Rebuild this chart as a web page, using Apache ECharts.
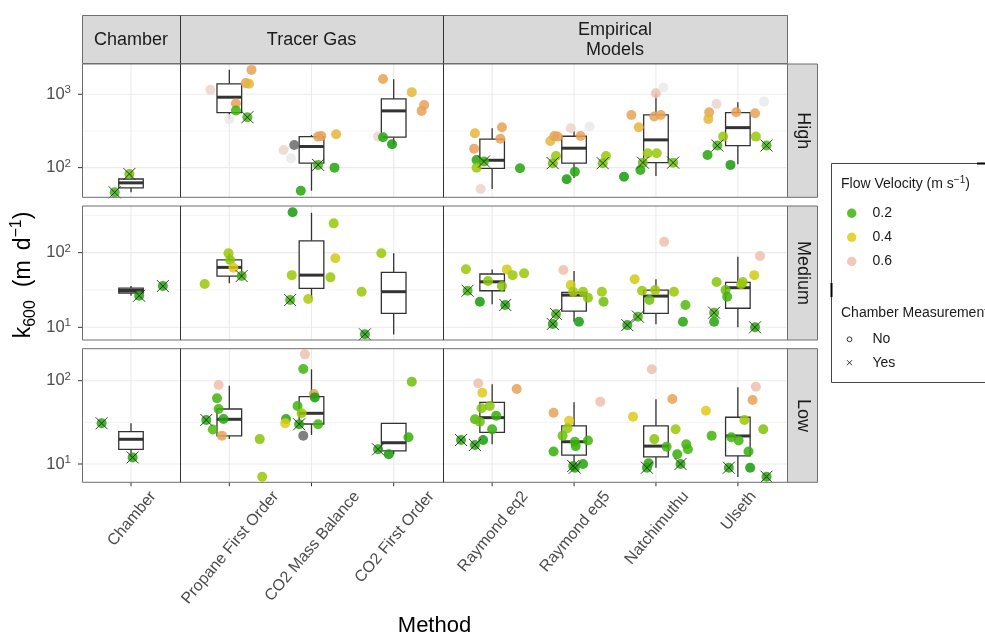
<!DOCTYPE html>
<html>
<head>
<meta charset="utf-8">
<script src="https://cdn.jsdelivr.net/npm/echarts@6/dist/echarts.min.js"></script>
<style>html,body{margin:0;padding:0;background:#fff}#c{width:985px;height:636px}</style>
</head>
<body>
<div id="c"></div>
<script>
// ---------------- data ----------------
const methods = ['Chamber', 'Propane First Order', 'CO2 Mass Balance', 'CO2 First Order',
  'Raymond eq2', 'Raymond eq5', 'Natchimuthu', 'Ulseth'];
const methodGroups = ['Chamber', 'Tracer Gas', 'Empirical\nModels'];
const groupFirstMethod = [0, 1, 4];
const groupMethodCount = [1, 3, 4];
const flowLevels = ['High', 'Medium', 'Low'];
const yAxisMin = [39.4, 6.76, 6.03];
const yAxisMax = [2588, 421.7, 242];
const yMajorBreaks = [10, 100, 1000];
const yMinorBreaks = [3.162, 31.62, 316.2, 3162];
const velocityBreaks = [0.2, 0.4, 0.6];
const chamberLevels = ['No', 'Yes'];

// [method index, jitter (category units), k600, flow velocity (null = NA), chamber measurement (1 = Yes)]
const highPoints = [
  [0,-0.20,46,0.2,1],[0,-0.02,82,0.25,1],
  [1,-0.23,1150,0.65,0],[1,0.27,2150,0.5,0],[1,0.20,1420,0.5,0],[1,0.24,1390,0.45,0],[1,0.08,750,0.5,0],[1,0.08,600,0.2,0],[1,0.0,457,0.7,0],[1,0.22,487,0.2,1],
  [2,-0.34,174,0.65,0],[2,-0.21,204,null,0],[2,-0.25,134,0.7,0],[2,0.08,265,0.5,0],[2,0.12,270,0.5,0],[2,0.30,285,0.45,0],[2,0.08,109,0.2,1],[2,0.28,100,0.15,0],[2,-0.13,48.5,0.15,0],
  [3,-0.13,1620,0.5,0],[3,0.22,1070,0.45,0],[3,0.37,716,0.5,0],[3,0.34,594,0.5,0],[3,-0.19,265,0.65,0],[3,-0.13,260,0.15,0],[3,-0.02,208,0.12,0],
  [4,-0.21,294,0.45,0],[4,0.12,356,0.5,0],[4,0.10,247,0.5,0],[4,-0.22,181,0.5,0],[4,-0.19,127,0.15,0],[4,-0.10,121,0.2,1],[4,-0.19,100,0.3,0],[4,-0.14,51,0.65,0],[4,0.34,98,0.15,0],
  [5,-0.29,231,0.45,0],[5,-0.24,270,0.5,0],[5,-0.20,265,0.5,0],[5,-0.04,345,0.65,0],[5,0.19,363,0.7,0],[5,0.08,270,0.5,0],[5,-0.22,144,0.3,0],[5,-0.26,115,0.25,1],[5,0.01,88,0.15,0],[5,-0.09,69.5,0.12,0],[5,0.39,144,0.3,0],[5,0.35,115,0.25,1],
  [6,-0.30,523,0.5,0],[6,-0.21,356,0.45,0],[6,0.0,1035,0.6,0],[6,0.09,1233,0.7,0],[6,-0.02,497,0.5,0],[6,0.06,523,0.5,0],[6,-0.10,157,0.3,0],[6,0.01,157,0.3,0],[6,-0.16,117,0.25,1],[6,0.21,117,0.25,1],[6,-0.19,93,0.15,0],[6,-0.39,75,0.12,0],
  [7,-0.26,740,0.65,0],[7,-0.35,570,0.5,0],[7,-0.36,462,0.45,0],[7,0.32,795,0.7,0],[7,-0.02,570,0.5,0],[7,0.21,552,0.5,0],[7,-0.18,265,0.3,0],[7,-0.25,200,0.2,1],[7,-0.37,149,0.15,0],[7,0.22,265,0.3,0],[7,0.35,200,0.2,1],[7,-0.09,109,0.12,0]
];
const mediumPoints = [
  [0,0.10,26.5,0.15,1],[0,0.39,35.7,0.15,1],
  [1,-0.30,38,0.3,0],[1,-0.01,98,0.3,0],[1,0.01,79.6,0.28,0],[1,0.05,62.8,0.4,0],[1,0.15,48.6,0.2,1],
  [2,-0.23,347,0.12,0],[2,0.27,247,0.3,0],[2,0.29,84,0.38,0],[2,-0.24,50,0.3,0],[2,0.23,46.7,0.3,0],[2,-0.04,23.9,0.33,0],[2,-0.26,23.2,0.2,1],
  [3,-0.15,98,0.3,0],[3,-0.39,30,0.3,0],[3,-0.35,8.06,0.15,1],
  [4,-0.32,60,0.3,0],[4,0.18,59.7,0.38,0],[4,0.25,50,0.3,0],[4,0.39,52.8,0.3,0],[4,-0.05,41.7,0.28,0],[4,0.12,35.7,0.28,0],[4,-0.30,30.9,0.2,1],[4,-0.15,22,0.12,0],[4,0.16,19.9,0.15,1],
  [5,-0.13,58.5,0.6,0],[5,-0.04,36.8,0.38,0],[5,-0.01,30,0.32,0],[5,0.11,30,0.3,0],[5,0.17,24.9,0.28,0],[5,0.34,30,0.3,0],[5,0.36,22,0.25,0],[5,-0.22,15.1,0.2,1],[5,-0.26,11.1,0.15,1],[5,0.06,11.9,0.12,0],
  [6,0.10,140,0.6,0],[6,-0.26,44,0.38,0],[6,-0.17,30.9,0.3,0],[6,-0.01,31.5,0.3,0],[6,0.22,30,0.3,0],[6,-0.08,23.2,0.25,0],[6,0.36,19.9,0.22,0],[6,-0.22,13.9,0.2,1],[6,-0.35,10.7,0.15,1],[6,0.33,11.9,0.15,0],
  [7,0.27,90,0.6,0],[7,0.20,50,0.38,0],[7,-0.26,40.4,0.28,0],[7,0.06,40.4,0.3,0],[7,0.04,37.7,0.3,0],[7,-0.15,31.5,0.25,0],[7,-0.13,25.7,0.2,0],[7,-0.29,15.7,0.2,1],[7,-0.29,11.9,0.15,0],[7,0.21,10,0.15,1]
];
const lowPoints = [
  [0,-0.36,30.8,0.15,1],[0,0.02,12.0,0.15,1],
  [1,-0.13,88.7,0.6,0],[1,-0.15,61.5,0.2,0],[1,-0.13,45.7,0.2,0],[1,-0.07,34.7,0.15,0],[1,-0.28,33.8,0.15,1],[1,-0.20,26,0.22,0],[1,-0.09,21.9,0.5,0],[1,0.37,19.9,0.28,0],[1,0.40,7.04,0.3,0],
  [2,-0.08,207,0.6,0],[2,-0.10,138,0.2,0],[2,0.03,69.2,0.5,0],[2,0.04,63,0.12,0],[2,-0.17,49.6,0.2,0],[2,-0.12,40.6,0.3,0],[2,-0.31,34.7,0.15,0],[2,-0.32,30.8,0.4,0],[2,-0.15,30,0.15,1],[2,0.08,30,0.2,0],[2,-0.10,21.9,null,0],
  [3,0.22,97.3,0.25,0],[3,0.18,20.9,0.18,0],[3,-0.19,15,0.15,1],[3,-0.06,13.1,0.12,0],
  [4,-0.17,93,0.6,0],[4,-0.12,71.8,0.4,0],[4,0.30,79.4,0.5,0],[4,-0.13,46.7,0.28,0],[4,-0.03,49.7,0.28,0],[4,0.05,38,0.18,0],[4,-0.21,34.4,0.22,0],[4,-0.15,32.2,0.25,0],[4,0.0,26.1,0.18,0],[4,-0.11,19.4,0.12,0],[4,-0.38,19.4,0.15,1],[4,-0.21,16.9,0.15,1],
  [5,0.32,56,0.6,0],[5,-0.25,41.3,0.5,0],[5,-0.06,33.1,0.4,0],[5,-0.08,26.8,0.3,0],[5,-0.14,21.9,0.25,0],[5,0.17,19.1,0.2,0],[5,0.01,18.5,0.2,0],[5,0.02,16.4,0.18,0],[5,-0.25,14.1,0.18,0],[5,0.11,10,0.15,0],[5,-0.01,9.46,0.15,1],[5,0.01,9.03,0.15,1],
  [6,-0.05,137,0.6,0],[6,0.20,60.3,0.5,0],[6,-0.28,37,0.4,0],[6,0.24,26.1,0.3,0],[6,-0.02,19.9,0.28,0],[6,0.13,16.1,0.2,0],[6,0.37,17.2,0.2,0],[6,0.39,15,0.2,0],[6,0.26,13.1,0.18,0],[6,-0.09,10.2,0.15,0],[6,-0.11,9.03,0.15,1],[6,0.30,10,0.15,1],
  [7,0.22,84.7,0.6,0],[7,0.18,58.6,0.5,0],[7,-0.39,43.6,0.4,0],[7,0.08,33.7,0.3,0],[7,0.31,26.1,0.27,0],[7,-0.32,21.9,0.2,0],[7,-0.08,20.9,0.2,0],[7,0.01,19.1,0.2,0],[7,0.13,14.1,0.18,0],[7,0.15,9.03,0.12,0],[7,-0.11,9.03,0.15,1],[7,0.35,7.04,0.15,1]
];

// box statistics per method: [lower whisker, lower hinge, median, upper hinge, upper whisker]
const highBoxes = [[46,53,62,70,82],[457,562,912,1387,2153],[48.5,115,194,265,279],[208,260,594,865,1607],
  [51,98,126,244,345],[72,115,184,268,316],[77,117,239,523,1035],[111,200,351,562,780]];
const mediumBoxes = [[26.5,28.8,31.1,33.4,35.7],[38.8,48.6,63.5,80,98],[24.4,33.3,50,144,342],[8,15.4,30,54.5,98],
  [20.3,30.9,40.7,51.8,59.7],[11.9,16.5,27,29.4,56.8],[11,15.4,26.2,31.5,44],[10,18,33.9,40,88]];
const lowBoxes = [[12,15,19.8,24.4,30.8],[19.9,21.7,34.4,45.7,87],[22.3,30.2,40.6,64.3,137],[13.1,14.4,18,30.8,30.8],
  [17.2,24,36,55,90.6],[9,12.8,18.5,28.6,55],[9,12.2,16.4,28.6,59.8],[7,12.5,21.7,36.4,83.4]];

const rowPoints = [highPoints, mediumPoints, lowPoints];
const rowBoxes = [highBoxes, mediumBoxes, lowBoxes];

// ---------------- styling / layout ----------------
const FONT = 'Liberation Sans, Arial, Helvetica, sans-serif';
const colEdges = [82, 180, 443, 787];
const rowEdges = [[64, 197.3], [206, 340], [348.7, 482.3]];
const velStops = [0.1, 0.2, 0.3, 0.4, 0.5, 0.6, 0.7];
const velColors = ['#0B950B', '#3FB40C', '#99C807', '#DFCA1A', '#E8A257', '#EDC0AF', '#EAEAEA'];
const naColor = '#6A6A6A';
const POINT_OPACITY = 0.85;
const X_LABEL_SIZE = 16;
const X_LABEL_ANGLE = 50 * Math.PI / 180;

const measureCtx = document.createElement('canvas').getContext('2d');
measureCtx.font = X_LABEL_SIZE + 'px "Liberation Sans", Arial, sans-serif';

function hexToRgb(h) { return [parseInt(h.slice(1,3),16), parseInt(h.slice(3,5),16), parseInt(h.slice(5,7),16)]; }
function velColor(v) {
  if (v === null || v === undefined) return naColor;
  if (v <= velStops[0]) return velColors[0];
  if (v >= velStops[velStops.length-1]) return velColors[velColors.length-1];
  for (let i = 0; i < velStops.length - 1; i++) {
    if (v >= velStops[i] && v <= velStops[i+1]) {
      const t = (v - velStops[i]) / (velStops[i+1] - velStops[i]);
      const a = hexToRgb(velColors[i]), b = hexToRgb(velColors[i+1]);
      const c = a.map((x, k) => Math.round(x + (b[k] - x) * t));
      return 'rgb(' + c.join(',') + ')';
    }
  }
  return naColor;
}

const grids = [], xAxes = [], yAxes = [], series = [];

for (let r = 0; r < 3; r++) {
  for (let c = 0; c < 3; c++) {
    const g = r * 3 + c;
    const first = groupFirstMethod[c], n = groupMethodCount[c];
    const catIdx = [];
    for (let i = 0; i < n; i++) catIdx.push(i);
    grids.push({ left: colEdges[c], top: rowEdges[r][0], width: colEdges[c+1] - colEdges[c],
      height: rowEdges[r][1] - rowEdges[r][0], show: false });
    xAxes.push({
      gridIndex: g, type: 'value', min: -0.6, max: n - 0.4,
      axisLine: { show: false }, splitLine: { show: false }, axisTick: { show: false },
      axisLabel: { show: false }
    });
    yAxes.push({
      gridIndex: g, type: 'log', logBase: 10, min: yAxisMin[r], max: yAxisMax[r],
      axisLine: { show: false }, splitLine: { show: false }, axisTick: { show: false },
      minorTick: { show: false }, minorSplitLine: { show: false },
      axisLabel: c === 0 ? {
        show: true, showMinLabel: false, showMaxLabel: false, margin: 11,
        fontFamily: FONT, color: '#4D4D4D',
        formatter: v => '{b|10}{s|' + Math.round(Math.log10(v)) + '}',
        rich: {
          b: { fontSize: 16.5, lineHeight: 20, color: '#4D4D4D', fontFamily: FONT },
          s: { fontSize: 11.5, lineHeight: 8, verticalAlign: 'top', color: '#4D4D4D', fontFamily: FONT }
        }
      } : { show: false }
    });

    // grid lines, tick marks and category labels (positions through the axes)
    series.push({
      type: 'custom', xAxisIndex: g, yAxisIndex: g, silent: true, clip: false, z: 1,
      data: [[0, yAxisMin[r]]],
      renderItem: (params, api) => {
        const cs = params.coordSys;
        const top = cs.y, bottom = cs.y + cs.height, left = cs.x, right = cs.x + cs.width;
        const kids = [];
        yMinorBreaks.forEach(v => {
          const y = api.coord([0, v])[1];
          if (y > top + 0.5 && y < bottom - 0.5)
            kids.push({ type: 'line', shape: { x1: left, y1: y, x2: right, y2: y }, style: { stroke: '#EFEFEF', lineWidth: 0.7 } });
        });
        yMajorBreaks.forEach(v => {
          const y = api.coord([0, v])[1];
          if (y > top && y < bottom) {
            kids.push({ type: 'line', shape: { x1: left, y1: y, x2: right, y2: y }, style: { stroke: '#EBEBEB', lineWidth: 1.1 } });
            if (c === 0) kids.push({ type: 'line', shape: { x1: left - 4, y1: y, x2: left, y2: y }, style: { stroke: '#333333', lineWidth: 1 } });
          }
        });
        catIdx.forEach(i => {
          const x = api.coord([i, 100])[0];
          kids.push({ type: 'line', shape: { x1: x, y1: top, x2: x, y2: bottom }, style: { stroke: '#EBEBEB', lineWidth: 1.1 } });
          if (r === 2) {
            kids.push({ type: 'line', shape: { x1: x, y1: bottom, x2: x, y2: bottom + 4 }, style: { stroke: '#333333', lineWidth: 1 } });
            const name = methods[first + i];
            const L = measureCtx.measureText(name).width;
            const hBox = X_LABEL_SIZE * 0.82;
            const H = L * Math.sin(X_LABEL_ANGLE) + hBox * Math.cos(X_LABEL_ANGLE);
            kids.push({ type: 'text', x: x + 1, y: bottom + 7 + H / 2, rotation: X_LABEL_ANGLE,
              style: { text: name, fontSize: X_LABEL_SIZE, fontFamily: FONT, fill: '#4D4D4D',
                align: 'center', verticalAlign: 'middle', textAlign: 'center', textVerticalAlign: 'middle' } });
          }
        });
        return { type: 'group', children: kids };
      }
    });

    // boxplots
    const boxData = [];
    for (let i = 0; i < n; i++) boxData.push([i].concat(rowBoxes[r][first + i]));
    series.push({
      type: 'custom', xAxisIndex: g, yAxisIndex: g, silent: true, z: 2,
      encode: { x: 0, y: [1, 2, 3, 4, 5] },
      data: boxData,
      renderItem: (params, api) => {
        const x = api.value(0);
        const vals = [1, 2, 3, 4, 5].map(k => api.value(k));
        const cx = api.coord([x, vals[2]])[0];
        const x0 = api.coord([x - 0.15, vals[2]])[0];
        const x1 = api.coord([x + 0.15, vals[2]])[0];
        const ys = vals.map(v => api.coord([x, v])[1]);
        const stroke = '#333333';
        return { type: 'group', children: [
          { type: 'line', shape: { x1: cx, y1: ys[3], x2: cx, y2: ys[4] }, style: { stroke, lineWidth: 1.3 } },
          { type: 'line', shape: { x1: cx, y1: ys[1], x2: cx, y2: ys[0] }, style: { stroke, lineWidth: 1.3 } },
          { type: 'rect', shape: { x: x0, y: ys[3], width: x1 - x0, height: ys[1] - ys[3] }, style: { fill: '#FFFFFF', stroke, lineWidth: 1.3 } },
          { type: 'line', shape: { x1: x0, y1: ys[2], x2: x1, y2: ys[2] }, style: { stroke, lineWidth: 3 } }
        ] };
      }
    });

    // points
    const pts = rowPoints[r].filter(p => p[0] >= first && p[0] < first + n);
    series.push({
      type: 'scatter', xAxisIndex: g, yAxisIndex: g, silent: true, z: 3,
      symbol: 'circle', symbolSize: 10,
      data: pts.map(p => ({ value: [p[0] - first + p[1], p[2]], itemStyle: { color: velColor(p[3]), opacity: POINT_OPACITY } }))
    });
    // chamber measurement crosses
    series.push({
      type: 'custom', xAxisIndex: g, yAxisIndex: g, silent: true, clip: false, z: 4,
      data: pts.filter(p => p[4] === 1).map(p => [p[0] - first + p[1], p[2]]),
      renderItem: (params, api) => {
        const pt = api.coord([api.value(0), api.value(1)]);
        const d = 6;
        const st = { stroke: '#262626', lineWidth: 0.9 };
        return { type: 'group', children: [
          { type: 'line', shape: { x1: pt[0] - d, y1: pt[1] - d, x2: pt[0] + d, y2: pt[1] + d }, style: st },
          { type: 'line', shape: { x1: pt[0] - d, y1: pt[1] + d, x2: pt[0] + d, y2: pt[1] - d }, style: st }
        ] };
      }
    });
  }
}

// ---------------- strips, borders, titles, legend ----------------
const graphics = [];
const BORDER = '#6E6E6E';
const STRIP_FILL = '#D9D9D9';
for (let c = 0; c < 3; c++) {
  graphics.push({ type: 'rect', z: 10, shape: { x: colEdges[c] + 0.5, y: 15.5, width: colEdges[c+1] - colEdges[c], height: 48 },
    style: { fill: STRIP_FILL, stroke: BORDER, lineWidth: 1 } });
  graphics.push({ type: 'text', z: 11, x: (colEdges[c] + colEdges[c+1]) / 2, y: 40,
    style: { text: methodGroups[c], fontSize: 18, fontFamily: FONT, fill: '#1A1A1A', align: 'center', verticalAlign: 'middle', textAlign: 'center', textVerticalAlign: 'middle', lineHeight: 20 } });
}
for (let r = 0; r < 3; r++) {
  const t = rowEdges[r][0], b = rowEdges[r][1];
  graphics.push({ type: 'rect', z: 10, shape: { x: 787.5, y: t, width: 30, height: b - t },
    style: { fill: STRIP_FILL, stroke: BORDER, lineWidth: 1 } });
  graphics.push({ type: 'text', z: 11, x: 802.5, y: (t + b) / 2, rotation: -Math.PI / 2,
    style: { text: flowLevels[r], fontSize: 18, fontFamily: FONT, fill: '#1A1A1A', align: 'center', verticalAlign: 'middle', textAlign: 'center', textVerticalAlign: 'middle' } });
  for (let c = 0; c < 3; c++) {
    graphics.push({ type: 'rect', z: 20, silent: true, shape: { x: colEdges[c] + 0.5, y: t, width: colEdges[c+1] - colEdges[c], height: b - t },
      style: { fill: 'none', stroke: BORDER, lineWidth: 1 } });
  }
  [1, 2].forEach(c => graphics.push({ type: 'line', z: 21, shape: { x1: colEdges[c] + 0.5, y1: t, x2: colEdges[c] + 0.5, y2: b },
    style: { stroke: '#333333', lineWidth: 1 } }));
}
[1, 2].forEach(c => graphics.push({ type: 'line', z: 21, shape: { x1: colEdges[c] + 0.5, y1: 15.5, x2: colEdges[c] + 0.5, y2: 63.5 },
  style: { stroke: '#333333', lineWidth: 1 } }));

// axis titles
graphics.push({ type: 'text', z: 11, x: 434.5, y: 626,
  style: { text: 'Method', fontSize: 22, fontFamily: FONT, fill: '#000', align: 'center', verticalAlign: 'middle', textAlign: 'center', textVerticalAlign: 'middle' } });
graphics.push({ type: 'text', z: 11, x: 24, y: 275, rotation: Math.PI / 2,
  style: { text: '{b|k}{sub|600}{g1| }{b|(m}{g2| }{b|d}{sup|\u22121}{b|)}', fontFamily: FONT, fill: '#000', align: 'center', verticalAlign: 'middle', textAlign: 'center', textVerticalAlign: 'middle',
    rich: {
      b: { fontSize: 23, lineHeight: 30, fontFamily: FONT, fill: '#000' },
      g1: { fontSize: 23, lineHeight: 30, width: 13 },
      g2: { fontSize: 23, lineHeight: 30, width: 10 },
      sub: { fontSize: 16, lineHeight: 14, verticalAlign: 'bottom', fontFamily: FONT, fill: '#000' },
      sup: { fontSize: 16, lineHeight: 12, verticalAlign: 'top', fontFamily: FONT, fill: '#000' }
    } } });

// legend
graphics.push({ type: 'rect', z: 10, shape: { x: 831.5, y: 163.5, width: 170, height: 219 },
  style: { fill: '#FFFFFF', stroke: '#444444', lineWidth: 1 } });
graphics.push({ type: 'line', z: 12, shape: { x1: 977, y1: 163.5, x2: 985, y2: 163.5 }, style: { stroke: '#000', lineWidth: 2 } });
graphics.push({ type: 'line', z: 12, shape: { x1: 831.5, y1: 283, x2: 831.5, y2: 297 }, style: { stroke: '#000', lineWidth: 2 } });
graphics.push({ type: 'text', z: 11, x: 841, y: 184,
  style: { text: '{b|Flow Velocity (m s}{sup|\u22121}{b|)}', fontFamily: FONT, fill: '#1A1A1A', align: 'left', verticalAlign: 'middle', textAlign: 'left', textVerticalAlign: 'middle',
    rich: {
      b: { fontSize: 14, lineHeight: 18, fontFamily: FONT, fill: '#1A1A1A' },
      sup: { fontSize: 10, lineHeight: 8, verticalAlign: 'top', fontFamily: FONT, fill: '#1A1A1A' }
    } } });
const legendRowsY = [213.3, 237.3, 261.5];
velocityBreaks.forEach((v, i) => {
  graphics.push({ type: 'circle', z: 11, shape: { cx: 851.7, cy: legendRowsY[i], r: 4.7 }, style: { fill: velColor(v), opacity: POINT_OPACITY } });
  graphics.push({ type: 'text', z: 11, x: 872.5, y: legendRowsY[i],
    style: { text: v.toFixed(1), fontSize: 14, fontFamily: FONT, fill: '#1A1A1A', align: 'left', verticalAlign: 'middle', textAlign: 'left', textVerticalAlign: 'middle' } });
});
graphics.push({ type: 'text', z: 11, x: 841, y: 312.7,
  style: { text: 'Chamber Measurement', fontSize: 14, fontFamily: FONT, fill: '#1A1A1A', align: 'left', verticalAlign: 'middle', textAlign: 'left', textVerticalAlign: 'middle' } });
const chamberRowsY = [339.3, 362.7];
graphics.push({ type: 'circle', z: 11, shape: { cx: 849.5, cy: chamberRowsY[0], r: 2.4 }, style: { fill: 'none', stroke: '#1A1A1A', lineWidth: 0.9 } });
graphics.push({ type: 'line', z: 11, shape: { x1: 847, y1: chamberRowsY[1] - 2.5, x2: 852, y2: chamberRowsY[1] + 2.5 }, style: { stroke: '#1A1A1A', lineWidth: 0.9 } });
graphics.push({ type: 'line', z: 11, shape: { x1: 847, y1: chamberRowsY[1] + 2.5, x2: 852, y2: chamberRowsY[1] - 2.5 }, style: { stroke: '#1A1A1A', lineWidth: 0.9 } });
chamberLevels.forEach((lab, i) => {
  graphics.push({ type: 'text', z: 11, x: 872.5, y: chamberRowsY[i],
    style: { text: lab, fontSize: 14, fontFamily: FONT, fill: '#1A1A1A', align: 'left', verticalAlign: 'middle', textAlign: 'left', textVerticalAlign: 'middle' } });
});

const chart = echarts.init(document.getElementById('c'), null, { renderer: 'canvas' });
chart.setOption({
  animation: false,
  backgroundColor: '#FFFFFF',
  textStyle: { fontFamily: FONT },
  grid: grids, xAxis: xAxes, yAxis: yAxes, series: series,
  graphic: { elements: graphics }
});
</script>
</body>
</html>
